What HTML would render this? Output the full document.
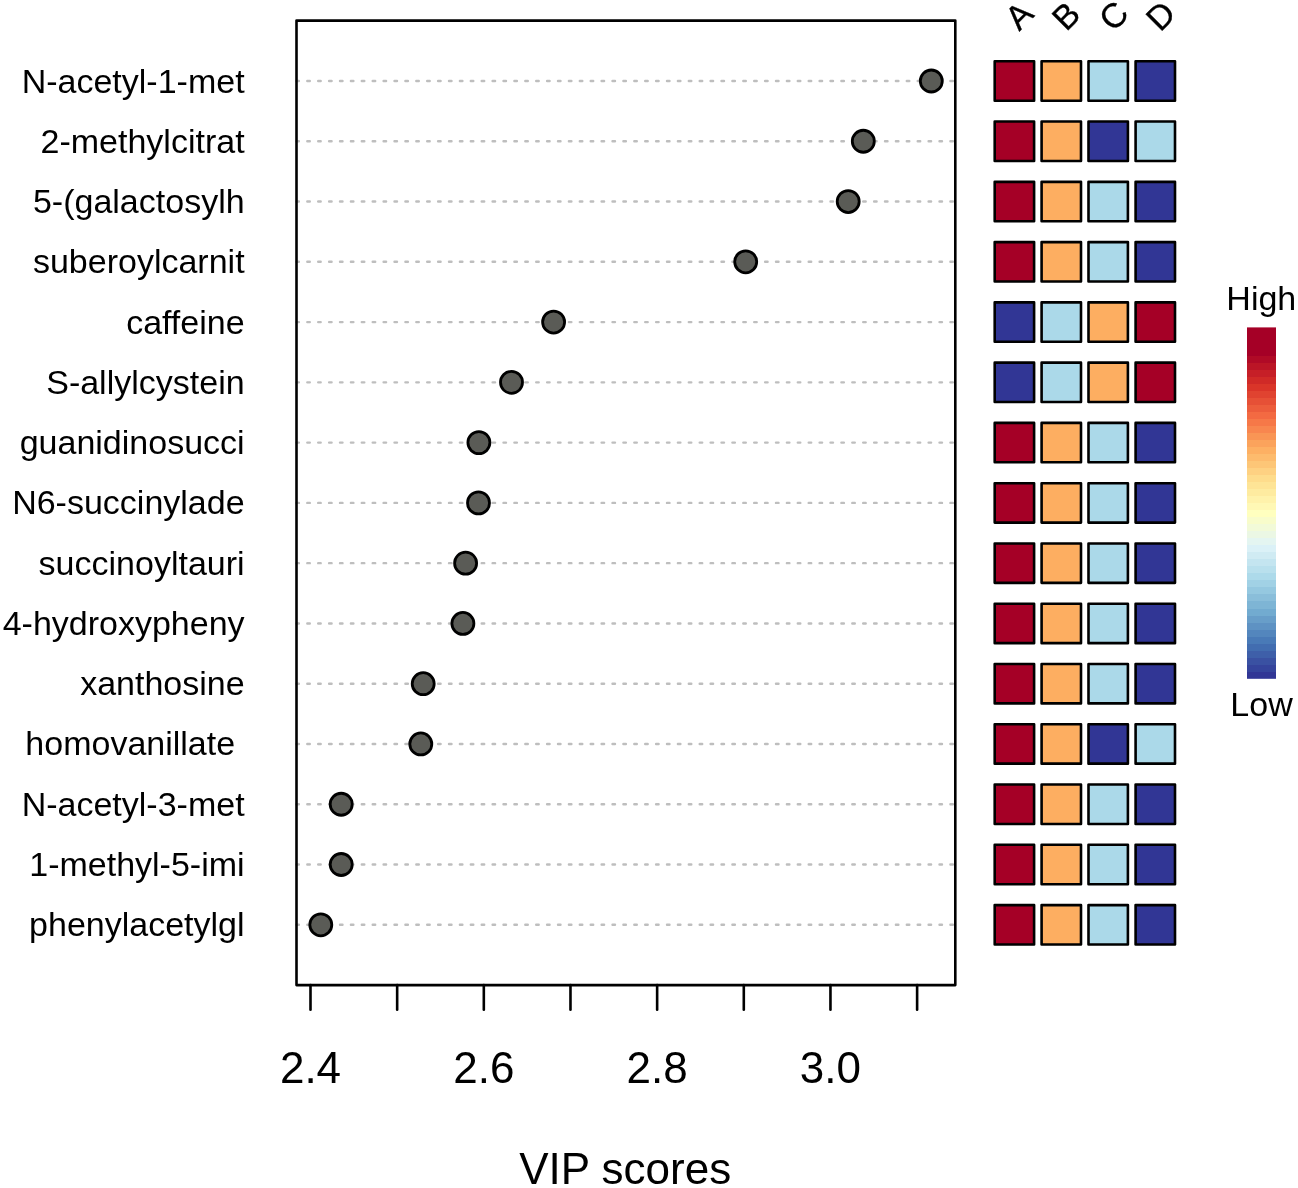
<!DOCTYPE html>
<html><head><meta charset="utf-8"><title>VIP scores</title>
<style>
html,body{margin:0;padding:0;background:#fff;}
body{width:1298px;height:1188px;overflow:hidden;}
svg{display:block;font-family:"Liberation Sans", sans-serif;will-change:transform;}
</style></head>
<body>
<svg width="1298" height="1188" viewBox="0 0 1298 1188">
<rect width="1298" height="1188" fill="#fff"/>
<line x1="296.4" y1="81" x2="954" y2="81" stroke="#BEBEBE" stroke-width="2.4" stroke-linecap="round" stroke-dasharray="2.5 8.4"/>
<line x1="296.4" y1="141.27" x2="954" y2="141.27" stroke="#BEBEBE" stroke-width="2.4" stroke-linecap="round" stroke-dasharray="2.5 8.4"/>
<line x1="296.4" y1="201.54" x2="954" y2="201.54" stroke="#BEBEBE" stroke-width="2.4" stroke-linecap="round" stroke-dasharray="2.5 8.4"/>
<line x1="296.4" y1="261.81" x2="954" y2="261.81" stroke="#BEBEBE" stroke-width="2.4" stroke-linecap="round" stroke-dasharray="2.5 8.4"/>
<line x1="296.4" y1="322.08" x2="954" y2="322.08" stroke="#BEBEBE" stroke-width="2.4" stroke-linecap="round" stroke-dasharray="2.5 8.4"/>
<line x1="296.4" y1="382.35" x2="954" y2="382.35" stroke="#BEBEBE" stroke-width="2.4" stroke-linecap="round" stroke-dasharray="2.5 8.4"/>
<line x1="296.4" y1="442.62" x2="954" y2="442.62" stroke="#BEBEBE" stroke-width="2.4" stroke-linecap="round" stroke-dasharray="2.5 8.4"/>
<line x1="296.4" y1="502.89" x2="954" y2="502.89" stroke="#BEBEBE" stroke-width="2.4" stroke-linecap="round" stroke-dasharray="2.5 8.4"/>
<line x1="296.4" y1="563.16" x2="954" y2="563.16" stroke="#BEBEBE" stroke-width="2.4" stroke-linecap="round" stroke-dasharray="2.5 8.4"/>
<line x1="296.4" y1="623.43" x2="954" y2="623.43" stroke="#BEBEBE" stroke-width="2.4" stroke-linecap="round" stroke-dasharray="2.5 8.4"/>
<line x1="296.4" y1="683.7" x2="954" y2="683.7" stroke="#BEBEBE" stroke-width="2.4" stroke-linecap="round" stroke-dasharray="2.5 8.4"/>
<line x1="296.4" y1="743.97" x2="954" y2="743.97" stroke="#BEBEBE" stroke-width="2.4" stroke-linecap="round" stroke-dasharray="2.5 8.4"/>
<line x1="296.4" y1="804.24" x2="954" y2="804.24" stroke="#BEBEBE" stroke-width="2.4" stroke-linecap="round" stroke-dasharray="2.5 8.4"/>
<line x1="296.4" y1="864.51" x2="954" y2="864.51" stroke="#BEBEBE" stroke-width="2.4" stroke-linecap="round" stroke-dasharray="2.5 8.4"/>
<line x1="296.4" y1="924.78" x2="954" y2="924.78" stroke="#BEBEBE" stroke-width="2.4" stroke-linecap="round" stroke-dasharray="2.5 8.4"/>
<rect x="296.5" y="20.6" width="658.8" height="964.5" fill="none" stroke="#000" stroke-width="2.6" stroke-linejoin="round"/>
<line x1="310.5" y1="985.1" x2="310.5" y2="1009.7" stroke="#000" stroke-width="2.6" stroke-linecap="round"/>
<line x1="397.16" y1="985.1" x2="397.16" y2="1009.7" stroke="#000" stroke-width="2.6" stroke-linecap="round"/>
<line x1="483.82" y1="985.1" x2="483.82" y2="1009.7" stroke="#000" stroke-width="2.6" stroke-linecap="round"/>
<line x1="570.48" y1="985.1" x2="570.48" y2="1009.7" stroke="#000" stroke-width="2.6" stroke-linecap="round"/>
<line x1="657.14" y1="985.1" x2="657.14" y2="1009.7" stroke="#000" stroke-width="2.6" stroke-linecap="round"/>
<line x1="743.8" y1="985.1" x2="743.8" y2="1009.7" stroke="#000" stroke-width="2.6" stroke-linecap="round"/>
<line x1="830.46" y1="985.1" x2="830.46" y2="1009.7" stroke="#000" stroke-width="2.6" stroke-linecap="round"/>
<line x1="917.12" y1="985.1" x2="917.12" y2="1009.7" stroke="#000" stroke-width="2.6" stroke-linecap="round"/>
<text x="310.5" y="1082.8" font-size="44" text-anchor="middle">2.4</text>
<text x="483.82" y="1082.8" font-size="44" text-anchor="middle">2.6</text>
<text x="657.14" y="1082.8" font-size="44" text-anchor="middle">2.8</text>
<text x="830.46" y="1082.8" font-size="44" text-anchor="middle">3.0</text>
<text x="625.2" y="1183.7" font-size="44" text-anchor="middle">VIP scores</text>
<text x="244.6" y="92.5" font-size="34.0" text-anchor="end" xml:space="preserve">N-acetyl-1-met</text>
<text x="244.6" y="152.77" font-size="34.0" text-anchor="end" xml:space="preserve">2-methylcitrat</text>
<text x="244.6" y="213.04" font-size="34.0" text-anchor="end" xml:space="preserve">5-(galactosylh</text>
<text x="244.6" y="273.31" font-size="34.0" text-anchor="end" xml:space="preserve">suberoylcarnit</text>
<text x="244.6" y="333.58" font-size="34.0" text-anchor="end" xml:space="preserve">caffeine</text>
<text x="244.6" y="393.85" font-size="34.0" text-anchor="end" xml:space="preserve">S-allylcystein</text>
<text x="244.6" y="454.12" font-size="34.0" text-anchor="end" xml:space="preserve">guanidinosucci</text>
<text x="244.6" y="514.39" font-size="34.0" text-anchor="end" xml:space="preserve">N6-succinylade</text>
<text x="244.6" y="574.66" font-size="34.0" text-anchor="end" xml:space="preserve">succinoyltauri</text>
<text x="244.6" y="634.93" font-size="34.0" text-anchor="end" xml:space="preserve">4-hydroxypheny</text>
<text x="244.6" y="695.2" font-size="34.0" text-anchor="end" xml:space="preserve">xanthosine</text>
<text x="244.6" y="755.47" font-size="34.0" text-anchor="end" xml:space="preserve">homovanillate </text>
<text x="244.6" y="815.74" font-size="34.0" text-anchor="end" xml:space="preserve">N-acetyl-3-met</text>
<text x="244.6" y="876.01" font-size="34.0" text-anchor="end" xml:space="preserve">1-methyl-5-imi</text>
<text x="244.6" y="936.28" font-size="34.0" text-anchor="end" xml:space="preserve">phenylacetylgl</text>
<circle cx="931.3" cy="81" r="11.0" fill="#5A5B56" stroke="#000" stroke-width="2.8"/>
<circle cx="863.3" cy="141.27" r="11.0" fill="#5A5B56" stroke="#000" stroke-width="2.8"/>
<circle cx="848.2" cy="201.54" r="11.0" fill="#5A5B56" stroke="#000" stroke-width="2.8"/>
<circle cx="745.7" cy="261.81" r="11.0" fill="#5A5B56" stroke="#000" stroke-width="2.8"/>
<circle cx="553.6" cy="322.08" r="11.0" fill="#5A5B56" stroke="#000" stroke-width="2.8"/>
<circle cx="511.5" cy="382.35" r="11.0" fill="#5A5B56" stroke="#000" stroke-width="2.8"/>
<circle cx="478.9" cy="442.62" r="11.0" fill="#5A5B56" stroke="#000" stroke-width="2.8"/>
<circle cx="478.5" cy="502.89" r="11.0" fill="#5A5B56" stroke="#000" stroke-width="2.8"/>
<circle cx="465.6" cy="563.16" r="11.0" fill="#5A5B56" stroke="#000" stroke-width="2.8"/>
<circle cx="462.9" cy="623.43" r="11.0" fill="#5A5B56" stroke="#000" stroke-width="2.8"/>
<circle cx="423.2" cy="683.7" r="11.0" fill="#5A5B56" stroke="#000" stroke-width="2.8"/>
<circle cx="420.8" cy="743.97" r="11.0" fill="#5A5B56" stroke="#000" stroke-width="2.8"/>
<circle cx="341.2" cy="804.24" r="11.0" fill="#5A5B56" stroke="#000" stroke-width="2.8"/>
<circle cx="341.2" cy="864.51" r="11.0" fill="#5A5B56" stroke="#000" stroke-width="2.8"/>
<circle cx="320.8" cy="924.78" r="11.0" fill="#5A5B56" stroke="#000" stroke-width="2.8"/>
<rect x="994.7" y="61.3" width="39.4" height="39.4" fill="#A50026" stroke="#000" stroke-width="2.6" stroke-linejoin="round"/>
<rect x="1041.6" y="61.3" width="39.4" height="39.4" fill="#FDAE61" stroke="#000" stroke-width="2.6" stroke-linejoin="round"/>
<rect x="1088.5" y="61.3" width="39.4" height="39.4" fill="#ABD9E9" stroke="#000" stroke-width="2.6" stroke-linejoin="round"/>
<rect x="1135.6" y="61.3" width="39.4" height="39.4" fill="#313695" stroke="#000" stroke-width="2.6" stroke-linejoin="round"/>
<rect x="994.7" y="121.57" width="39.4" height="39.4" fill="#A50026" stroke="#000" stroke-width="2.6" stroke-linejoin="round"/>
<rect x="1041.6" y="121.57" width="39.4" height="39.4" fill="#FDAE61" stroke="#000" stroke-width="2.6" stroke-linejoin="round"/>
<rect x="1088.5" y="121.57" width="39.4" height="39.4" fill="#313695" stroke="#000" stroke-width="2.6" stroke-linejoin="round"/>
<rect x="1135.6" y="121.57" width="39.4" height="39.4" fill="#ABD9E9" stroke="#000" stroke-width="2.6" stroke-linejoin="round"/>
<rect x="994.7" y="181.84" width="39.4" height="39.4" fill="#A50026" stroke="#000" stroke-width="2.6" stroke-linejoin="round"/>
<rect x="1041.6" y="181.84" width="39.4" height="39.4" fill="#FDAE61" stroke="#000" stroke-width="2.6" stroke-linejoin="round"/>
<rect x="1088.5" y="181.84" width="39.4" height="39.4" fill="#ABD9E9" stroke="#000" stroke-width="2.6" stroke-linejoin="round"/>
<rect x="1135.6" y="181.84" width="39.4" height="39.4" fill="#313695" stroke="#000" stroke-width="2.6" stroke-linejoin="round"/>
<rect x="994.7" y="242.11" width="39.4" height="39.4" fill="#A50026" stroke="#000" stroke-width="2.6" stroke-linejoin="round"/>
<rect x="1041.6" y="242.11" width="39.4" height="39.4" fill="#FDAE61" stroke="#000" stroke-width="2.6" stroke-linejoin="round"/>
<rect x="1088.5" y="242.11" width="39.4" height="39.4" fill="#ABD9E9" stroke="#000" stroke-width="2.6" stroke-linejoin="round"/>
<rect x="1135.6" y="242.11" width="39.4" height="39.4" fill="#313695" stroke="#000" stroke-width="2.6" stroke-linejoin="round"/>
<rect x="994.7" y="302.38" width="39.4" height="39.4" fill="#313695" stroke="#000" stroke-width="2.6" stroke-linejoin="round"/>
<rect x="1041.6" y="302.38" width="39.4" height="39.4" fill="#ABD9E9" stroke="#000" stroke-width="2.6" stroke-linejoin="round"/>
<rect x="1088.5" y="302.38" width="39.4" height="39.4" fill="#FDAE61" stroke="#000" stroke-width="2.6" stroke-linejoin="round"/>
<rect x="1135.6" y="302.38" width="39.4" height="39.4" fill="#A50026" stroke="#000" stroke-width="2.6" stroke-linejoin="round"/>
<rect x="994.7" y="362.65" width="39.4" height="39.4" fill="#313695" stroke="#000" stroke-width="2.6" stroke-linejoin="round"/>
<rect x="1041.6" y="362.65" width="39.4" height="39.4" fill="#ABD9E9" stroke="#000" stroke-width="2.6" stroke-linejoin="round"/>
<rect x="1088.5" y="362.65" width="39.4" height="39.4" fill="#FDAE61" stroke="#000" stroke-width="2.6" stroke-linejoin="round"/>
<rect x="1135.6" y="362.65" width="39.4" height="39.4" fill="#A50026" stroke="#000" stroke-width="2.6" stroke-linejoin="round"/>
<rect x="994.7" y="422.92" width="39.4" height="39.4" fill="#A50026" stroke="#000" stroke-width="2.6" stroke-linejoin="round"/>
<rect x="1041.6" y="422.92" width="39.4" height="39.4" fill="#FDAE61" stroke="#000" stroke-width="2.6" stroke-linejoin="round"/>
<rect x="1088.5" y="422.92" width="39.4" height="39.4" fill="#ABD9E9" stroke="#000" stroke-width="2.6" stroke-linejoin="round"/>
<rect x="1135.6" y="422.92" width="39.4" height="39.4" fill="#313695" stroke="#000" stroke-width="2.6" stroke-linejoin="round"/>
<rect x="994.7" y="483.19" width="39.4" height="39.4" fill="#A50026" stroke="#000" stroke-width="2.6" stroke-linejoin="round"/>
<rect x="1041.6" y="483.19" width="39.4" height="39.4" fill="#FDAE61" stroke="#000" stroke-width="2.6" stroke-linejoin="round"/>
<rect x="1088.5" y="483.19" width="39.4" height="39.4" fill="#ABD9E9" stroke="#000" stroke-width="2.6" stroke-linejoin="round"/>
<rect x="1135.6" y="483.19" width="39.4" height="39.4" fill="#313695" stroke="#000" stroke-width="2.6" stroke-linejoin="round"/>
<rect x="994.7" y="543.46" width="39.4" height="39.4" fill="#A50026" stroke="#000" stroke-width="2.6" stroke-linejoin="round"/>
<rect x="1041.6" y="543.46" width="39.4" height="39.4" fill="#FDAE61" stroke="#000" stroke-width="2.6" stroke-linejoin="round"/>
<rect x="1088.5" y="543.46" width="39.4" height="39.4" fill="#ABD9E9" stroke="#000" stroke-width="2.6" stroke-linejoin="round"/>
<rect x="1135.6" y="543.46" width="39.4" height="39.4" fill="#313695" stroke="#000" stroke-width="2.6" stroke-linejoin="round"/>
<rect x="994.7" y="603.73" width="39.4" height="39.4" fill="#A50026" stroke="#000" stroke-width="2.6" stroke-linejoin="round"/>
<rect x="1041.6" y="603.73" width="39.4" height="39.4" fill="#FDAE61" stroke="#000" stroke-width="2.6" stroke-linejoin="round"/>
<rect x="1088.5" y="603.73" width="39.4" height="39.4" fill="#ABD9E9" stroke="#000" stroke-width="2.6" stroke-linejoin="round"/>
<rect x="1135.6" y="603.73" width="39.4" height="39.4" fill="#313695" stroke="#000" stroke-width="2.6" stroke-linejoin="round"/>
<rect x="994.7" y="664" width="39.4" height="39.4" fill="#A50026" stroke="#000" stroke-width="2.6" stroke-linejoin="round"/>
<rect x="1041.6" y="664" width="39.4" height="39.4" fill="#FDAE61" stroke="#000" stroke-width="2.6" stroke-linejoin="round"/>
<rect x="1088.5" y="664" width="39.4" height="39.4" fill="#ABD9E9" stroke="#000" stroke-width="2.6" stroke-linejoin="round"/>
<rect x="1135.6" y="664" width="39.4" height="39.4" fill="#313695" stroke="#000" stroke-width="2.6" stroke-linejoin="round"/>
<rect x="994.7" y="724.27" width="39.4" height="39.4" fill="#A50026" stroke="#000" stroke-width="2.6" stroke-linejoin="round"/>
<rect x="1041.6" y="724.27" width="39.4" height="39.4" fill="#FDAE61" stroke="#000" stroke-width="2.6" stroke-linejoin="round"/>
<rect x="1088.5" y="724.27" width="39.4" height="39.4" fill="#313695" stroke="#000" stroke-width="2.6" stroke-linejoin="round"/>
<rect x="1135.6" y="724.27" width="39.4" height="39.4" fill="#ABD9E9" stroke="#000" stroke-width="2.6" stroke-linejoin="round"/>
<rect x="994.7" y="784.54" width="39.4" height="39.4" fill="#A50026" stroke="#000" stroke-width="2.6" stroke-linejoin="round"/>
<rect x="1041.6" y="784.54" width="39.4" height="39.4" fill="#FDAE61" stroke="#000" stroke-width="2.6" stroke-linejoin="round"/>
<rect x="1088.5" y="784.54" width="39.4" height="39.4" fill="#ABD9E9" stroke="#000" stroke-width="2.6" stroke-linejoin="round"/>
<rect x="1135.6" y="784.54" width="39.4" height="39.4" fill="#313695" stroke="#000" stroke-width="2.6" stroke-linejoin="round"/>
<rect x="994.7" y="844.81" width="39.4" height="39.4" fill="#A50026" stroke="#000" stroke-width="2.6" stroke-linejoin="round"/>
<rect x="1041.6" y="844.81" width="39.4" height="39.4" fill="#FDAE61" stroke="#000" stroke-width="2.6" stroke-linejoin="round"/>
<rect x="1088.5" y="844.81" width="39.4" height="39.4" fill="#ABD9E9" stroke="#000" stroke-width="2.6" stroke-linejoin="round"/>
<rect x="1135.6" y="844.81" width="39.4" height="39.4" fill="#313695" stroke="#000" stroke-width="2.6" stroke-linejoin="round"/>
<rect x="994.7" y="905.08" width="39.4" height="39.4" fill="#A50026" stroke="#000" stroke-width="2.6" stroke-linejoin="round"/>
<rect x="1041.6" y="905.08" width="39.4" height="39.4" fill="#FDAE61" stroke="#000" stroke-width="2.6" stroke-linejoin="round"/>
<rect x="1088.5" y="905.08" width="39.4" height="39.4" fill="#ABD9E9" stroke="#000" stroke-width="2.6" stroke-linejoin="round"/>
<rect x="1135.6" y="905.08" width="39.4" height="39.4" fill="#313695" stroke="#000" stroke-width="2.6" stroke-linejoin="round"/>
<text x="0" y="0" font-size="34.0" text-anchor="middle" stroke="#000" stroke-width="0.35" transform="translate(1019,15.5) rotate(-45) translate(0,11.6)">A</text>
<text x="0" y="0" font-size="34.0" text-anchor="middle" stroke="#000" stroke-width="0.35" transform="translate(1066,16) rotate(-45) translate(0,11.6)">B</text>
<text x="0" y="0" font-size="34.0" text-anchor="middle" stroke="#000" stroke-width="0.35" transform="translate(1113.8,15.8) rotate(-45) translate(0,11.6)">C</text>
<text x="0" y="0" font-size="34.0" text-anchor="middle" stroke="#000" stroke-width="0.35" transform="translate(1160.7,15.9) rotate(-45) translate(0,11.6)">D</text>
<defs><linearGradient id="cb" gradientUnits="userSpaceOnUse" x1="0" y1="327.4" x2="0" y2="678.8"><stop offset="0.0000" stop-color="#A50026"/><stop offset="0.0200" stop-color="#A50026"/><stop offset="0.0200" stop-color="#A50026"/><stop offset="0.0400" stop-color="#A50026"/><stop offset="0.0400" stop-color="#A50026"/><stop offset="0.0600" stop-color="#A50026"/><stop offset="0.0600" stop-color="#A50026"/><stop offset="0.0800" stop-color="#A50026"/><stop offset="0.0800" stop-color="#B00A26"/><stop offset="0.1000" stop-color="#B00A26"/><stop offset="0.1000" stop-color="#BB1526"/><stop offset="0.1200" stop-color="#BB1526"/><stop offset="0.1200" stop-color="#C61F27"/><stop offset="0.1400" stop-color="#C61F27"/><stop offset="0.1400" stop-color="#D02A27"/><stop offset="0.1600" stop-color="#D02A27"/><stop offset="0.1600" stop-color="#DA3529"/><stop offset="0.1800" stop-color="#DA3529"/><stop offset="0.1800" stop-color="#E04330"/><stop offset="0.2000" stop-color="#E04330"/><stop offset="0.2000" stop-color="#E65036"/><stop offset="0.2200" stop-color="#E65036"/><stop offset="0.2200" stop-color="#EC5D3C"/><stop offset="0.2400" stop-color="#EC5D3C"/><stop offset="0.2400" stop-color="#F36A42"/><stop offset="0.2600" stop-color="#F36A42"/><stop offset="0.2600" stop-color="#F67848"/><stop offset="0.2800" stop-color="#F67848"/><stop offset="0.2800" stop-color="#F8864F"/><stop offset="0.3000" stop-color="#F8864F"/><stop offset="0.3000" stop-color="#F99555"/><stop offset="0.3200" stop-color="#F99555"/><stop offset="0.3200" stop-color="#FBA35C"/><stop offset="0.3400" stop-color="#FBA35C"/><stop offset="0.3400" stop-color="#FDB063"/><stop offset="0.3600" stop-color="#FDB063"/><stop offset="0.3600" stop-color="#FDBB6D"/><stop offset="0.3800" stop-color="#FDBB6D"/><stop offset="0.3800" stop-color="#FDC677"/><stop offset="0.4000" stop-color="#FDC677"/><stop offset="0.4000" stop-color="#FED182"/><stop offset="0.4200" stop-color="#FED182"/><stop offset="0.4200" stop-color="#FEDC8C"/><stop offset="0.4400" stop-color="#FEDC8C"/><stop offset="0.4400" stop-color="#FEE496"/><stop offset="0.4600" stop-color="#FEE496"/><stop offset="0.4600" stop-color="#FEEBA0"/><stop offset="0.4800" stop-color="#FEEBA0"/><stop offset="0.4800" stop-color="#FFF2AB"/><stop offset="0.5000" stop-color="#FFF2AB"/><stop offset="0.5000" stop-color="#FFF8B5"/><stop offset="0.5200" stop-color="#FFF8B5"/><stop offset="0.5200" stop-color="#FFFFBF"/><stop offset="0.5400" stop-color="#FFFFBF"/><stop offset="0.5400" stop-color="#F8FCCB"/><stop offset="0.5600" stop-color="#F8FCCB"/><stop offset="0.5600" stop-color="#F2FAD8"/><stop offset="0.5800" stop-color="#F2FAD8"/><stop offset="0.5800" stop-color="#EBF7E4"/><stop offset="0.6000" stop-color="#EBF7E4"/><stop offset="0.6000" stop-color="#E4F5F1"/><stop offset="0.6200" stop-color="#E4F5F1"/><stop offset="0.6200" stop-color="#DBF1F7"/><stop offset="0.6400" stop-color="#DBF1F7"/><stop offset="0.6400" stop-color="#D0EBF3"/><stop offset="0.6600" stop-color="#D0EBF3"/><stop offset="0.6600" stop-color="#C4E5F0"/><stop offset="0.6800" stop-color="#C4E5F0"/><stop offset="0.6800" stop-color="#B9E0ED"/><stop offset="0.7000" stop-color="#B9E0ED"/><stop offset="0.7000" stop-color="#ADDAEA"/><stop offset="0.7200" stop-color="#ADDAEA"/><stop offset="0.7200" stop-color="#A1D1E5"/><stop offset="0.7400" stop-color="#A1D1E5"/><stop offset="0.7400" stop-color="#95C8E0"/><stop offset="0.7600" stop-color="#95C8E0"/><stop offset="0.7600" stop-color="#8ABEDA"/><stop offset="0.7800" stop-color="#8ABEDA"/><stop offset="0.7800" stop-color="#7EB5D5"/><stop offset="0.8000" stop-color="#7EB5D5"/><stop offset="0.8000" stop-color="#72ABD0"/><stop offset="0.8200" stop-color="#72ABD0"/><stop offset="0.8200" stop-color="#689EC9"/><stop offset="0.8400" stop-color="#689EC9"/><stop offset="0.8400" stop-color="#5E92C3"/><stop offset="0.8600" stop-color="#5E92C3"/><stop offset="0.8600" stop-color="#5386BD"/><stop offset="0.8800" stop-color="#5386BD"/><stop offset="0.8800" stop-color="#497AB7"/><stop offset="0.9000" stop-color="#497AB7"/><stop offset="0.9000" stop-color="#426DB0"/><stop offset="0.9200" stop-color="#426DB0"/><stop offset="0.9200" stop-color="#3E5FA9"/><stop offset="0.9400" stop-color="#3E5FA9"/><stop offset="0.9400" stop-color="#3A51A2"/><stop offset="0.9600" stop-color="#3A51A2"/><stop offset="0.9600" stop-color="#35449C"/><stop offset="0.9800" stop-color="#35449C"/><stop offset="0.9800" stop-color="#313695"/><stop offset="1.0000" stop-color="#313695"/></linearGradient></defs>
<rect x="1247" y="327.4" width="29" height="351.4" fill="url(#cb)"/>
<text x="1261.3" y="310.4" font-size="34.0" text-anchor="middle">High</text>
<text x="1261.5" y="715.6" font-size="34.0" text-anchor="middle">Low</text>
</svg>
</body></html>
